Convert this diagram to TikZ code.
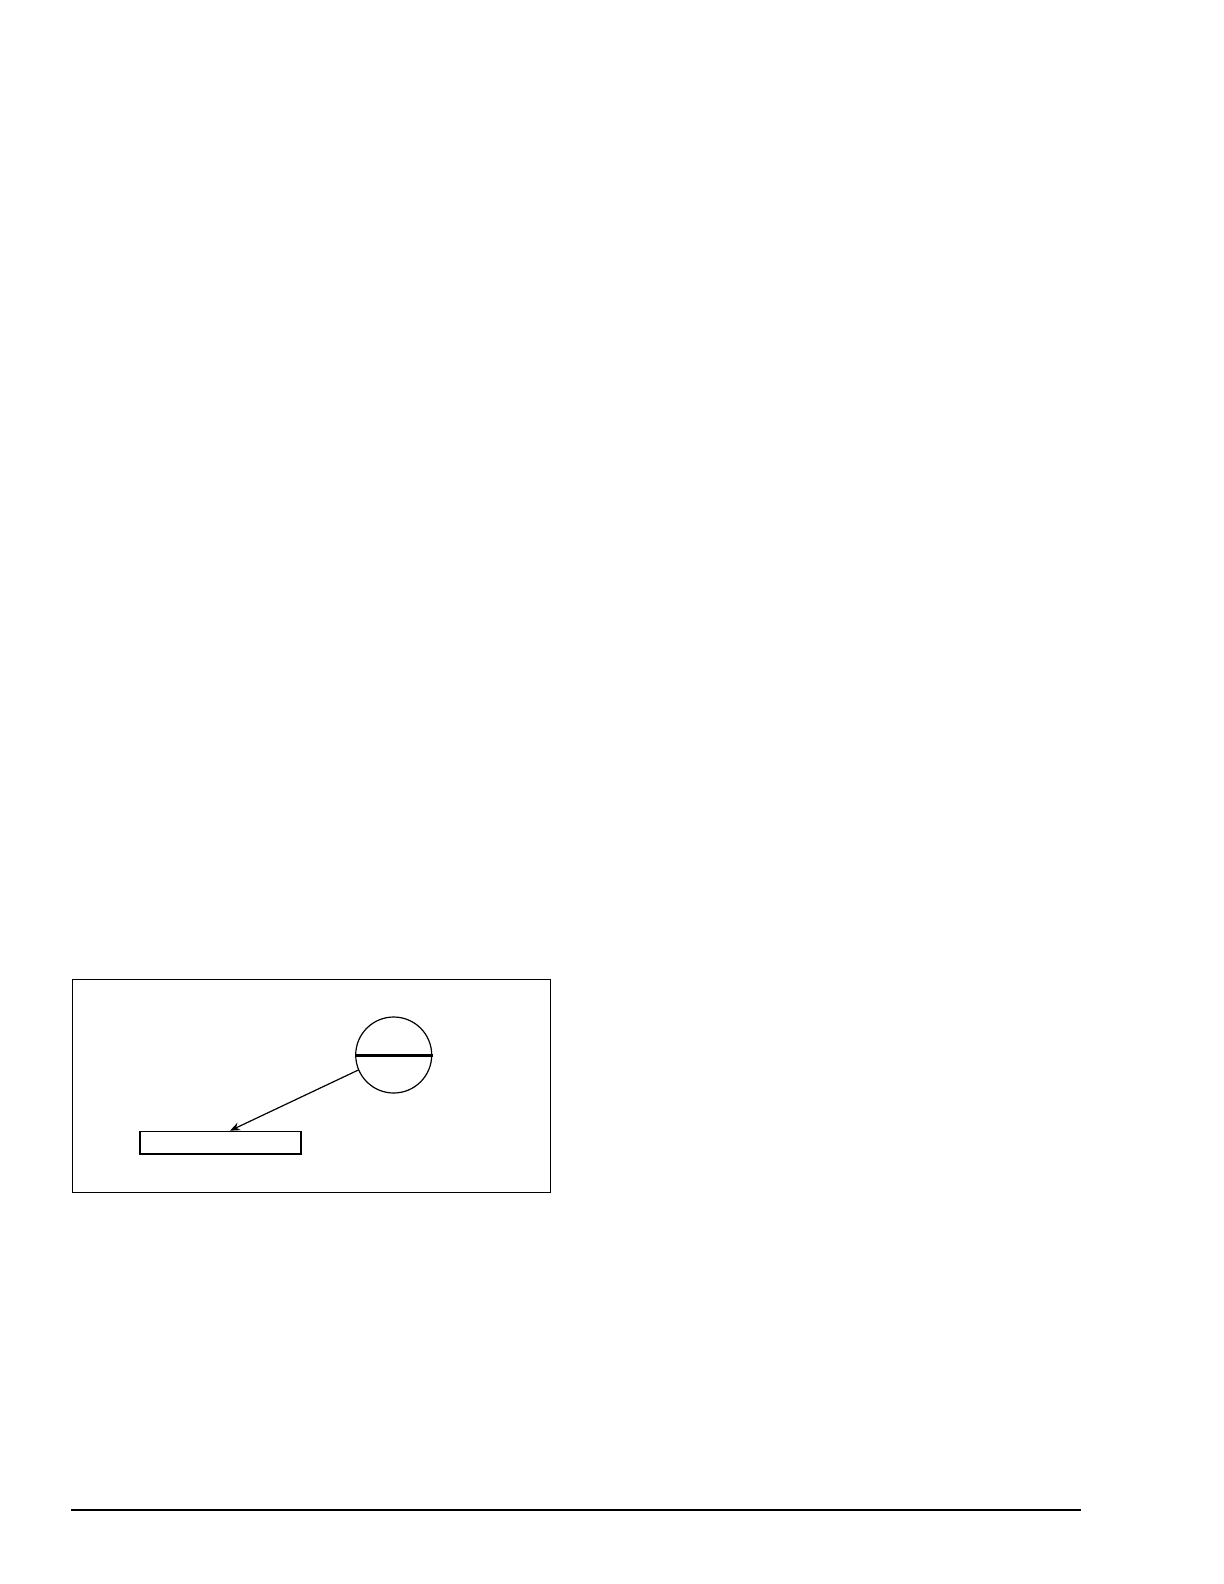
\documentclass[tikz,border=0pt]{standalone}
\usetikzlibrary{arrows.meta}
\begin{document}
\begin{tikzpicture}[x=0.5pt,y=-0.5pt,
  frame/.style={draw=black,line width=0.7pt},
  thin/.style={draw=black,line width=0.6pt},
  bar/.style={draw=black,line width=1.1pt},
  conn/.style={draw=black,line width=0.6pt,-{Stealth[length=5pt,width=4pt]}}]
\useasboundingbox (0,0) rectangle (1224,1584);
\fill[white] (0,0) rectangle (1224,1584);
\node[frame,rectangle,minimum width=478pt*0.5,minimum height=213pt*0.5,inner sep=0pt,anchor=north west] (outer) at (72,979) {};
\node[thin,circle,minimum size=76pt*0.5,inner sep=0pt] (circ) at (393.7,1055) {};
\coordinate (barL) at (355.7,1055.5);
\coordinate (barR) at (433,1055.5);
\draw[bar] (barL) -- (barR);
\node[frame,rectangle,minimum width=161pt*0.5,minimum height=22.6pt*0.5,inner sep=0pt,anchor=north west] (rect) at (139.3,1130.7) {};
\coordinate (tip) at (230,1130.7);
\draw[conn] (circ.203) -- (tip);
\coordinate (ruleL) at (71,1510);
\coordinate (ruleR) at (1080.7,1510);
\draw[black,line width=0.8pt] (ruleL) -- (ruleR);
\end{tikzpicture}
\end{document}
